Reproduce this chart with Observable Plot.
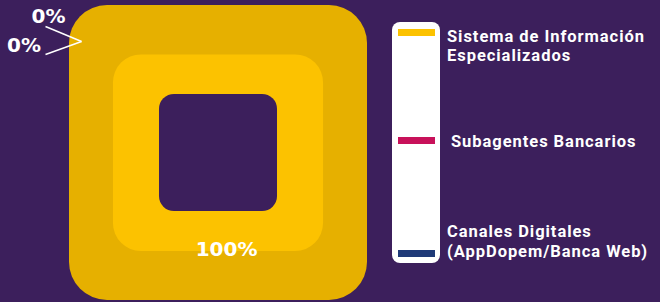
<!DOCTYPE html>
<html><head><meta charset="utf-8">
<script src="https://cdn.jsdelivr.net/npm/d3@7"></script>
<script src="https://cdn.jsdelivr.net/npm/@observablehq/plot@0.6"></script>
<style>
html,body{margin:0;padding:0;background:#3c1f5c;}
#chart{position:relative;width:660px;height:302px;overflow:hidden;background:#3c1f5c;}
#chart svg{position:absolute;left:0;top:0;}
.legend-box{position:absolute;left:392px;top:22px;width:48px;height:241px;background:#fff;border-radius:8px;}
.sw{position:absolute;left:398px;width:37px;height:7px;}
.lab{position:absolute;color:#fff;font-family:Roboto,sans-serif;font-weight:700;font-size:16.5px;letter-spacing:0.95px;line-height:19.5px;white-space:nowrap;}
</style></head>
<body><div id="chart"></div>
<script>
// ---- data ----
const categories = ["Sistema de Información Especializados", "Subagentes Bancarios", "Canales Digitales (AppDopem/Banca Web)"];
const legendLines = [["Sistema de Información", "Especializados"], ["Subagentes Bancarios"], ["Canales Digitales", "(AppDopem/Banca Web)"]];
const values = [100, 0, 0];
const percentLabels = ["100%", "0%", "0%"];
const colors = ["#fcc200", "#c8115a", "#1f3a78"];

// ---- build ----
const bg = "#3c1f5c";
const rows = categories.map((c, i) => ({category: c, value: values[i], label: percentLabels[i], color: colors[i]}));
const slices = d3.pie().sort(null).value(d => d.value)(rows).map(s => ({...s.data, startAngle: s.startAngle, endAngle: s.endAngle}));
const full = slices.filter(d => d.value > 0);
const zero = slices.filter(d => d.value === 0);

const labX = [-1.141, -1.305], labY = [-0.928, -0.725];
const lineY = [-0.858, -0.668];

const chart = Plot.plot({
  width: 660,
  height: 302,
  x: {domain: [-1, 1], range: [69, 367], axis: null},
  y: {domain: [-1, 1], range: [5, 300], axis: null},
  color: {type: "identity"},
  style: {background: "transparent", overflow: "visible"},
  marks: [
    Plot.rect(full, {x1: -1, x2: 1, y1: -1, y2: 1, fill: "#e6b000", rx: 38}),
    Plot.rect(full, {x1: -0.705, x2: 0.705, y1: -0.665, y2: 0.668, fill: "color", rx: 28}),
    Plot.rect(full, {x1: -0.396, x2: 0.396, y1: -0.397, y2: 0.397, fill: bg, rx: 15}),
    Plot.text(full, {x: 0.054, y: 0.658, text: "label", fill: "white", fontSize: 20, fontWeight: 700, fontFamily: "DejaVu Sans"}),
    Plot.link(zero, {x1: -1.161, y1: (d, i) => lineY[i], x2: -0.919, y2: -0.756, stroke: "white", strokeWidth: 1.5}),
    Plot.text(zero, {x: (d, i) => labX[i], y: (d, i) => labY[i], text: "label", fill: "white", fontSize: 20, fontWeight: 700, fontFamily: "DejaVu Sans"})
  ]
});
const root = document.getElementById("chart");
root.appendChild(chart);

// ---- legend ----
const box = document.createElement("div");
box.className = "legend-box";
root.appendChild(box);
const swTops = [29, 137, 250];
const labTops = [26.5, 131.5, 222];
const labLefts = [447, 451, 447];
categories.forEach((c, i) => {
  const sw = document.createElement("div");
  sw.className = "sw";
  sw.style.top = swTops[i] + "px";
  sw.style.background = colors[i];
  root.appendChild(sw);
  const lab = document.createElement("div");
  lab.className = "lab";
  lab.style.top = labTops[i] + "px";
  lab.style.left = labLefts[i] + "px";
  lab.innerHTML = legendLines[i].join("<br>");
  root.appendChild(lab);
});
</script>
</body></html>
